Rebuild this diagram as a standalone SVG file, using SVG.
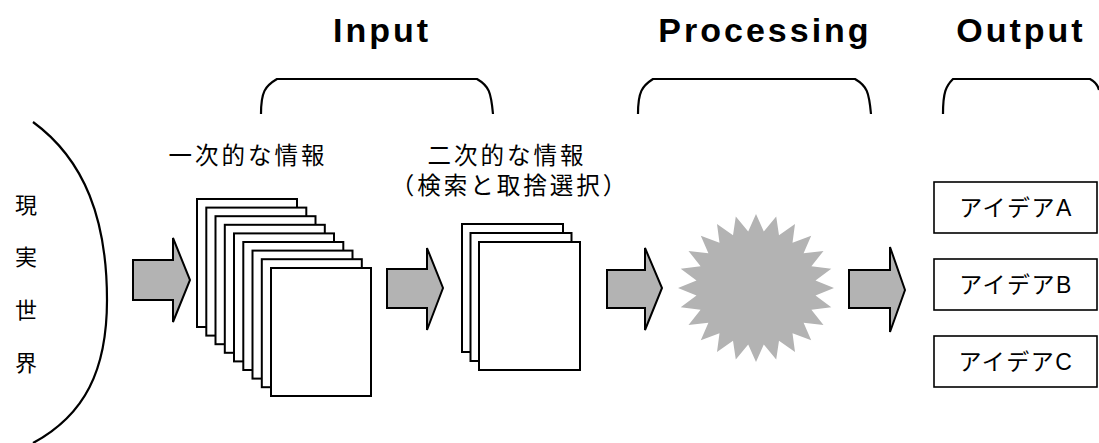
<svg xmlns="http://www.w3.org/2000/svg" width="1099" height="443" viewBox="0 0 1099 443">
<style>
.hdr{font-family:"Liberation Sans",Arial,sans-serif;font-weight:bold;font-size:34px;letter-spacing:3px;fill:#000;text-anchor:middle}
.jp{font-family:"Liberation Sans","Noto Sans CJK JP",sans-serif;font-size:23.5px;letter-spacing:3px;fill:#000;text-anchor:middle}
.bx{font-family:"Liberation Sans","Noto Sans CJK JP",sans-serif;font-size:23px;letter-spacing:1.5px;fill:#000;text-anchor:middle}
.vt{font-family:"Noto Sans CJK JP",sans-serif;font-size:22px;fill:#000;text-anchor:middle}
.line{fill:none;stroke:#000;stroke-width:2.2}
.page{fill:#fff;stroke:#000;stroke-width:2}
.arrow{fill:#b3b3b3;stroke:#000;stroke-width:2;stroke-linejoin:miter}
.box{fill:#fff;stroke:#000;stroke-width:1.6}
.star{fill:#b3b3b3;stroke:none}
</style>
<rect width="1099" height="443" fill="#fff"/>
<g id="headers">
<text class="hdr" x="382" y="42">Input</text>
<text class="hdr" x="765" y="42">Processing</text>
<text class="hdr" x="1021" y="42">Output</text>
</g>
<g id="brackets">
<path class="line" d="M261,114 C261,92 265,86 277,79 L477,79 C489,86 491,92 493,114"/>
<path class="line" d="M638,114 C638,92 642,86 653,79 L855,79 C867,86 869,92 871,114"/>
<path class="line" d="M943,114 C943,92 946,86 953,79 L1090,79 C1096,82 1098,86 1099,90"/>
</g>
<g id="real-world">
<path class="line" d="M33,122 C85,160 107,220 107,300 C107,370 85,415 33,443"/>
<text class="vt" x="26" y="213">現</text>
<text class="vt" x="26" y="265">実</text>
<text class="vt" x="26" y="318">世</text>
<text class="vt" x="26" y="371">界</text>
</g>
<g id="connectors">
<polygon class="arrow" points="133,260 173,260 173,238 190,280 173,322 173,300 133,300"/>
<polygon class="arrow" points="387,269 427,269 427,248 443,288 427,330 427,308 387,308"/>
<polygon class="arrow" points="607,270 645,270 645,248 662,288 645,330 645,308 607,308"/>
<polygon class="arrow" points="849,270 890,270 890,247 905,290 890,332 890,308 849,308"/>
</g>
<g id="primary-info">
<text class="jp" x="248" y="164">一次的な情報</text>
<rect class="page" x="197" y="199" width="100" height="128"/>
<rect class="page" x="206.3" y="207.6" width="100" height="128"/>
<rect class="page" x="215.5" y="216.2" width="100" height="128"/>
<rect class="page" x="224.8" y="224.8" width="100" height="128"/>
<rect class="page" x="234" y="233.4" width="100" height="128"/>
<rect class="page" x="243.3" y="242" width="100" height="128"/>
<rect class="page" x="252.5" y="250.6" width="100" height="128"/>
<rect class="page" x="261.8" y="259.2" width="100" height="128"/>
<rect class="page" x="271" y="268" width="100" height="128"/>
</g>
<g id="secondary-info">
<text class="jp" x="507" y="164">二次的な情報</text>
<text class="jp" x="510" y="194">（検索と取捨選択）</text>
<rect class="page" x="462" y="224" width="101" height="128"/>
<rect class="page" x="470.5" y="233" width="101" height="128"/>
<rect class="page" x="479" y="242" width="101" height="128"/>
</g>
<g id="processing">
<polygon class="star" points="756,214 763.8,231.5 776.2,216.5 779,235.3 795,223.9 792.5,242.8 811.2,235.7 803.6,253.3 823.5,251 811.4,266.2 831.3,268.8 815.5,280.6 834,288 815.5,295.4 831.3,307.2 811.4,309.8 823.5,325 803.6,322.7 811.2,340.3 792.5,333.2 795,352.1 779,340.7 776.2,359.5 763.8,344.5 756,362 748.2,344.5 735.8,359.5 733,340.7 717,352.1 719.5,333.2 700.8,340.3 708.4,322.7 688.5,325 700.6,309.8 680.7,307.2 696.5,295.4 678,288 696.5,280.6 680.7,268.8 700.6,266.2 688.5,251 708.4,253.3 700.8,235.7 719.5,242.8 717,223.9 733,235.3 735.8,216.5 748.2,231.5"/>
</g>
<g id="idea-a">
<rect class="box" x="934" y="182" width="163" height="51"/>
<text class="bx" x="1016" y="216">アイデアA</text>
</g>
<g id="idea-b">
<rect class="box" x="934" y="259" width="163" height="51"/>
<text class="bx" x="1016" y="293">アイデアB</text>
</g>
<g id="idea-c">
<rect class="box" x="934" y="336" width="163" height="51"/>
<text class="bx" x="1016" y="370">アイデアC</text>
</g>
</svg>
